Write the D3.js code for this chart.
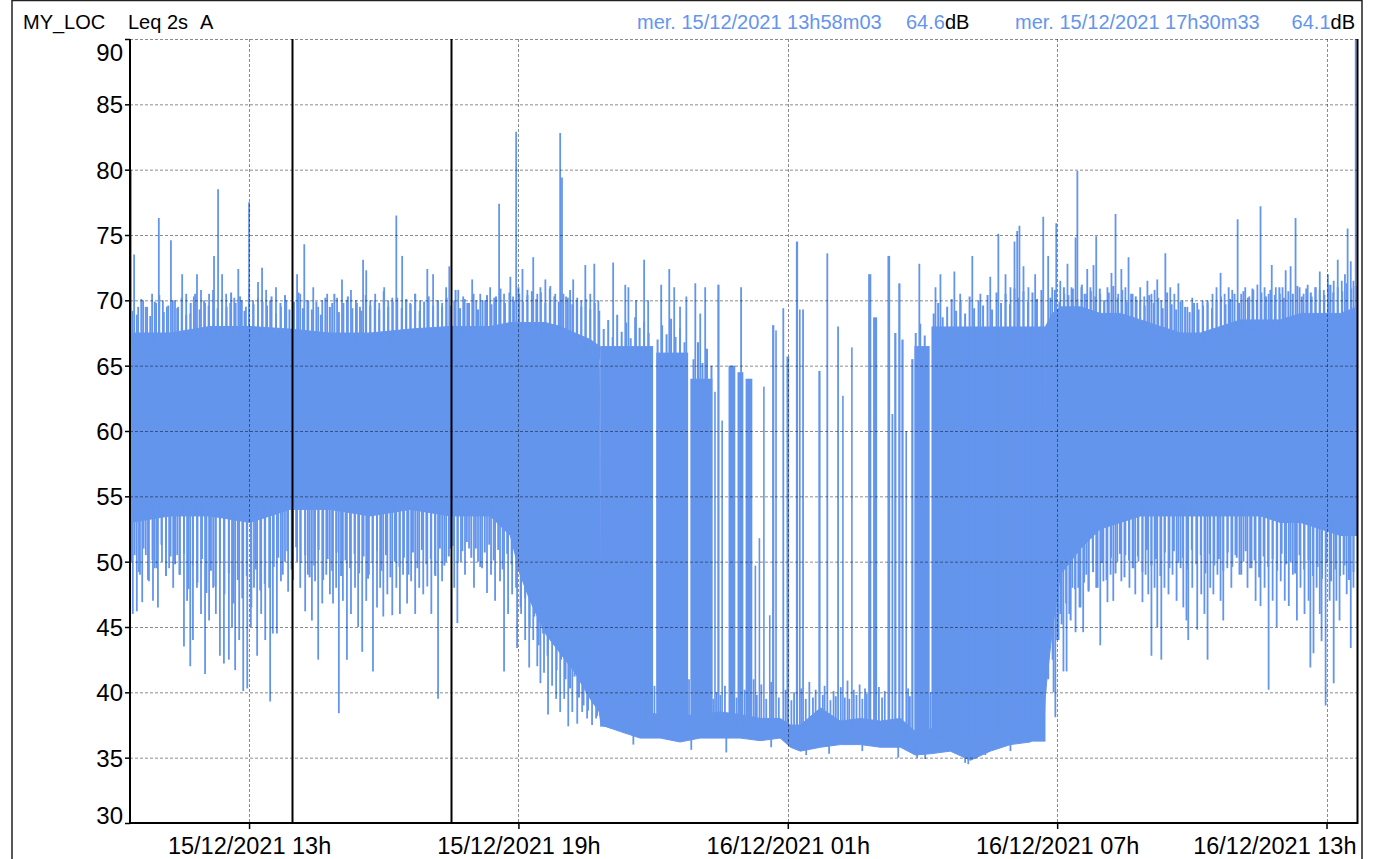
<!DOCTYPE html>
<html><head><meta charset="utf-8">
<script src="https://cdn.jsdelivr.net/npm/d3@7/dist/d3.min.js"></script>
<style>
body{margin:0;background:#fff;}
svg{display:block;font-family:"Liberation Sans",Arial,Helvetica,sans-serif;}
</style>
</head><body>
<svg id="chart" width="1373" height="859"></svg>
<script>
// ---------- DATA (time in hours since 15/12/2021 00:00, levels in dB(A)) ----------
const viewHours = [10.348, 37.69];
const yTicks = [30, 35, 40, 45, 50, 55, 60, 65, 70, 75, 80, 85, 90];
const xTickHours = [13, 19, 25, 31, 37];
const xTickLabels = ["15/12/2021 13h", "15/12/2021 19h", "16/12/2021 01h", "16/12/2021 07h", "16/12/2021 13h"];

// dense core of the Leq 2s trace
const bandHours = [10.35,11.24,12.13,13.02,13.91,14.80,15.70,16.59,17.48,18.37,18.82,19.04,19.26,19.60,19.93,20.26,20.60,20.80,
  20.84,21.27,21.71,22.16,22.60,23.05,23.50,23.94,24.39,24.83,25.06,25.28,25.73,26.17,26.62,27.06,27.51,27.84,28.18,28.62,29.07,29.51,29.96,30.40,30.70,
  30.74,30.90,31.07,31.52,31.96,32.41,32.86,33.30,33.75,34.19,34.64,35.08,35.53,35.97,36.42,36.87,37.31,37.69];
const bandLow = [53,53.5,53.5,53,54,54,53.5,54,53.5,53.5,52,49,47,44.5,43,41.5,39.5,38.5,
  37.5,37,36.5,36.5,36.2,36.5,36.5,36.5,36.3,36.5,35.8,35.5,35.8,36,36,35.8,35.8,35.2,35.3,35.5,34.8,35.5,36,36.2,37,
  40,45,49,51,52.5,53,53.5,53.5,53.5,53.5,53.5,53.5,53.5,53,53,52.5,52,52];
const bandHigh = [67.5,67.5,68,68,67.8,67.5,67.5,67.8,68,68,68.3,68.3,68.3,68.3,68,67.5,67,66.5,
  39.5,38.8,38.5,38.3,38.2,38.3,38.5,38.3,38,38,37.5,37.5,38.8,37.8,38,37.8,38,37,37.2,37.8,37.5,38,38.2,38.5,40,
  68,69,69.5,69.5,69,69,68.5,68,67.5,67.5,68,68.5,68.5,68.5,69,69,69,69.5];

// night-time bursts of activity above the background floor
const burstStart = [20.82,22.07,22.83,23.36,23.43,23.52,23.68,23.88,24.06,24.26,24.35,24.45,24.58,24.65,24.72,24.88,24.97,25.18,25.25,25.32,25.68,25.86,26.10,26.21,26.41,26.79,26.90,27.22,27.31,27.37,27.46,27.53,27.62,27.75,27.82,28.20];
const burstEnd   = [22.00,22.78,23.32,23.39,23.48,23.54,23.83,24.01,24.21,24.28,24.37,24.47,24.61,24.70,24.74,24.92,25.03,25.23,25.27,25.36,25.73,25.90,26.14,26.23,26.43,26.86,26.99,27.28,27.35,27.42,27.51,27.58,27.64,27.80,28.16,30.74];
const burstTop   = [66.5,66,64,63,71.2,60.8,65,64.5,64,49.7,51.8,63.4,45.9,68.1,67.7,69.4,65.7,74.5,69.3,69.3,64.6,73.6,68,62.7,66.4,72,68.7,73.4,61.3,67.5,71.3,67,60,65.5,66.5,68];

// isolated maxima
const peakHours = [10.37,10.44,10.53,10.64,10.73,10.84,10.93,10.99,11.08,11.17,11.26,11.35,11.42,11.51,11.60,11.69,11.77,11.84,11.93,12.02,12.11,12.22,12.31,12.40,12.49,12.58,12.67,12.76,12.84,12.93,13.00,13.09,13.20,13.29,13.38,13.47,13.60,13.71,13.83,14.07,14.14,14.23,14.32,14.43,14.54,14.63,14.74,14.85,14.96,15.07,15.18,15.27,15.38,15.47,15.54,15.61,15.70,15.81,15.90,16.01,16.10,16.19,16.28,16.41,16.50,16.59,16.70,16.81,16.97,17.10,17.21,17.30,17.39,17.46,17.57,17.66,17.77,17.86,17.97,18.06,18.15,18.26,18.37,18.46,18.57,18.68,18.82,18.88,18.95,19.02,19.09,19.20,19.33,19.42,19.49,19.60,19.71,19.82,19.93,19.97,20.06,20.15,20.22,20.31,20.40,20.49,20.60,20.69,20.78,
  21.11,21.38,21.45,21.62,21.80,21.89,22.18,22.36,22.47,22.60,22.74,22.94,23.05,23.16,23.96,27.93,28.29,28.40,28.71,28.84,29.11,29.29,29.51,29.69,29.85,29.96,30.05,30.11,30.16,30.25,30.36,30.51,30.69,
  30.80,30.89,30.98,31.07,31.16,31.23,31.32,31.41,31.45,31.54,31.61,31.67,31.74,31.81,31.87,31.96,32.05,32.12,32.21,32.30,32.36,32.43,32.52,32.59,32.68,32.77,32.85,32.94,33.01,33.10,33.17,33.23,33.32,33.41,33.52,33.61,33.70,33.79,33.90,34.01,34.12,34.24,34.35,34.46,34.55,34.64,34.73,34.82,34.90,35.02,35.10,35.19,35.28,35.37,35.46,35.53,35.62,35.71,35.78,35.87,35.96,36.02,36.09,36.20,36.31,36.40,36.49,36.58,36.67,36.76,36.85,36.94,37.03,37.09,37.16,37.25,37.34,37.41,37.47,37.54,37.60,37.65];
const peakLevels = [80,73.5,69.5,70,69.5,70.5,69.8,76.3,70,69.5,74.6,70,69.5,72,70.5,69,70.3,72,70.8,69.8,70.5,73.4,78.5,72,70.5,69.8,70.2,72.4,70,69.5,77.5,70,71.4,72.5,70.8,70,71,69.5,70,72,70.5,74.3,70,71,69.5,70,70.5,69.8,70.2,71.6,70,70.8,70,69.5,73.1,72.3,70,70.5,69.8,71,70,70.2,76.5,73.4,70,69.8,70.5,70,72.4,72,70,69.8,71,72.6,70,70.8,70.3,69.8,71.6,70,70.5,70,71,70.2,77.4,70.5,71.8,70.3,82.9,70.5,72.4,70.8,73.3,70.5,71,71.6,71.1,70.5,82.8,79.4,70.3,70.8,71.6,70.2,70,72.7,70.5,72.8,70,
  72.9,71.2,71,70,73.1,70,71.2,72.4,71,69.5,70.3,71.3,69,71,71,72.8,71,72,72.2,70.5,73.4,70.5,71.8,75.1,72,71,74.5,75.3,75.7,72.6,71,72,76.4,
  73.4,71,75.9,71.5,70.5,72.8,71,74.8,79.9,71,70.5,72.4,71,72.7,74.9,70.5,70,71,72.1,76.6,70.5,72.4,71,73.3,70.5,70,71,70.3,71.5,70.5,70.8,71.6,70,73.6,71,70.5,71.3,70,69.5,70.2,69.8,70,69.8,70.5,71,72.1,70.5,71,70.8,76.2,70.5,71,70.3,70.8,71.2,77.2,71,70.5,72.7,71,70.5,71,72.3,72.6,76.3,71,70.5,71.2,70.3,71,72.2,70.8,72,71.2,71.5,73.1,71.5,72,75.5,73,71.5,91];

// isolated minima
const dipHours = [10.39,10.41,10.50,10.57,10.62,10.70,10.77,10.86,10.90,10.97,11.06,11.15,11.22,11.31,11.40,11.46,11.55,11.62,11.69,11.75,11.84,11.93,12.02,12.11,12.20,12.26,12.35,12.44,12.55,12.62,12.69,12.78,12.87,12.96,13.04,13.11,13.18,13.27,13.36,13.47,13.53,13.62,13.71,13.80,13.87,13.98,14.07,14.14,14.25,14.31,14.40,14.47,14.54,14.63,14.72,14.80,14.87,14.94,15.00,15.09,15.18,15.27,15.36,15.43,15.52,15.61,15.67,15.76,15.85,15.92,15.99,16.08,16.19,16.28,16.36,16.43,16.52,16.61,16.70,16.79,16.88,16.97,17.06,17.14,17.21,17.30,17.39,17.48,17.57,17.64,17.72,17.81,17.90,18.01,18.10,18.19,18.30,18.39,18.48,18.59,18.68,18.77,18.86,18.97,19.06,19.15,19.24,19.33,19.42,19.49,19.57,19.66,19.75,19.84,19.93,20.02,20.11,20.20,20.31,20.42,20.53,20.64,20.73,
  21.56,22.85,23.63,24.63,25.41,25.92,26.66,27.46,27.88,28.06,28.95,29.02,29.40,29.96,
  30.74,30.78,30.85,30.92,30.96,31.03,31.07,31.14,31.21,31.27,31.34,31.41,31.47,31.52,31.58,31.65,31.70,31.79,31.87,31.96,32.03,32.12,32.19,32.25,32.34,32.43,32.52,32.61,32.68,32.74,32.81,32.90,32.97,33.03,33.10,33.17,33.23,33.32,33.39,33.48,33.57,33.66,33.75,33.81,33.88,33.92,34.01,34.12,34.21,34.28,34.35,34.41,34.48,34.57,34.64,34.70,34.79,34.88,34.97,35.06,35.15,35.24,35.33,35.42,35.53,35.62,35.71,35.80,35.89,35.98,36.07,36.16,36.25,36.34,36.42,36.51,36.60,36.64,36.71,36.78,36.85,36.89,36.98,37.07,37.16,37.22,37.29,37.38,37.45,37.54,37.60];
const dipLevels = [50,46,46.2,49,46.9,50.5,48.5,47,49.5,46.5,50,51,49.5,48,50.5,49,43.5,47,42,44,48,46,41.4,45.5,48,46,42.8,42.2,42.5,45,41.7,44,40.1,40.3,45,48,42.8,46,44,39.3,44.5,44.5,48.5,50,47.7,48.6,50,48,46.2,49,45.5,48.5,42.5,46.8,49,47.5,46.8,48,38.4,47,42.5,46,48,45,43.1,47,49,41.6,46.5,48,45.8,47.5,45.9,48,46,49,46.8,48.5,46,48,47.5,48.1,46,49,39.5,48.5,50,51,48,45.3,50,49,51,48,50,49.5,47.6,49,47,48.5,41.6,46,47.5,43.4,46,44,41.9,44,42,40.7,41.5,38.3,40.5,39.5,38.5,39.5,37.4,38.5,37.6,38.5,38,37.5,38,
  36,35.6,35.4,35.8,35.2,35.3,35.5,35,35,34.9,34.6,34.5,35.2,35.5,
  40,43.1,45,40,38.1,44,46,41.6,41.6,46,48,44.6,48,46.5,44.6,49,47.7,50,48,43.6,48.5,46.9,49,47,50,48.5,50.5,48,49.5,47.5,50,46.9,49,47.5,42.8,48,45,42.5,48,47.5,49,47,49.5,46.5,45.5,44,48,44.8,47.5,46,42.5,48,47.5,49,47,45.5,49.5,48,50.5,49,50,48,49.5,47,46.6,48,40.2,47,45,48.5,47,46.6,49,45.5,48,46,47,41.9,43,48,46,43.9,39,47,40.7,47,45.5,49,47.5,43.4,48];

// fine fringe of the trace: 6-minute maxima above and minima below the core
const fringeUpHours = [10.4,10.5,10.6,10.7,10.8,10.9,11.0,11.1,11.2,11.3,11.4,11.5,11.6,11.7,11.8,11.9,12.0,12.1,12.2,12.3,12.4,12.5,12.6,12.7,12.8,12.9,13.0,13.1,13.2,13.3,13.4,13.5,13.6,13.7,13.8,13.9,14.0,14.1,14.2,14.3,14.4,14.5,14.6,14.7,14.8,14.9,15.0,15.1,15.2,15.3,15.4,15.5,15.6,15.7,15.8,15.9,16.0,16.1,16.2,16.3,16.4,16.5,16.6,16.7,16.8,16.9,17.0,17.1,17.2,17.3,17.4,17.5,17.6,17.7,17.8,17.9,18.0,18.1,18.2,18.3,18.4,18.5,18.6,18.7,18.8,18.9,19.0,19.1,19.2,19.3,19.4,19.5,19.6,19.7,19.8,19.9,20.0,20.1,20.2,20.3,20.4,20.5,20.6,20.7,20.8,
  20.9,21.0,21.1,21.2,21.3,21.4,21.5,21.6,21.7,21.8,21.9,22.1,22.2,22.3,22.4,22.5,22.6,22.7,22.9,23.0,23.1,23.2,23.3,27.85,27.95,28.05,
  28.25,28.35,28.45,28.55,28.65,28.75,28.85,28.95,29.05,29.15,29.25,29.35,29.45,29.55,29.65,29.75,29.85,29.95,30.05,30.15,30.25,30.35,30.45,30.55,30.65,
  30.85,30.95,31.05,31.15,31.25,31.35,31.45,31.55,31.65,31.75,31.85,31.95,32.05,32.15,32.25,32.35,32.45,32.55,32.65,32.75,32.85,32.95,33.05,33.15,33.25,33.35,33.45,33.55,33.65,33.75,33.85,33.95,34.05,34.15,34.25,34.35,34.45,34.55,34.65,34.75,34.85,34.95,35.05,35.15,35.25,35.35,35.45,35.55,35.65,35.75,35.85,35.95,36.05,36.15,36.25,36.35,36.45,36.55,36.65,36.75,36.85,36.95,37.05,37.15,37.25,37.35,37.45,37.55,37.65];
const fringeUpLevels = [69.2,68.9,70.1,69.5,68.8,69.9,70.4,69.1,69.6,70.0, 69.4,70.2,68.9,69.8,70.5,69.3,70.0,69.6,70.8,69.4, 70.1,69.5,70.6,69.8,70.3,69.2,70.9,69.7,70.2,69.9, 69.6,70.3,69.0,69.8,70.4,69.3,69.9,70.6,69.4,70.0, 69.3,69.9,68.9,70.2,69.5,70.5,69.1,69.8,70.3,69.4, 69.8,69.2,70.4,69.6,70.0,69.3,70.7,69.5,69.9,70.2, 69.4,70.1,69.7,70.5,69.2,69.9,70.3,69.6,70.0,69.5, 70.2,69.6,70.8,69.4,70.1,69.8,70.5,69.3,70.0,70.4, 69.7,70.3,70.9,69.8,70.6,70.0,71.0,69.9,70.4,70.7, 70.1,70.6,69.8,70.9,70.3,69.9,70.5,70.2,69.7,70.0, 69.5,70.1,69.3,69.8,69.2,
  67.8,68.5,67.2,68.9,67.6,68.3,67.1,68.7,67.9,68.4,67.5,67.0,68.1,67.4,68.6,67.2,67.9,66.8,65.5,66.8,65.2,66.3,65.0,67.5,68.2,67.3,
  69.0,69.8,68.7,69.5,70.1,69.2,69.9,69.0,70.3,69.4,70.0,69.6,70.4,69.3,70.6,69.8,70.5,69.7,70.9,70.2,70.7,69.9,70.6,70.1,70.8,
  70.2,70.8,69.9,71.0,70.4,70.9,70.1,71.2,70.5,70.7, 70.3,70.9,70.0,70.6,71.1,70.2,70.8,69.9,70.5,70.3, 70.0,69.6,70.4,69.8,70.2,69.4,70.6,69.7,69.3,69.9, 69.5,69.1,69.8,69.3,69.6,70.0,69.4,69.9,70.3,69.7, 70.1,70.5,69.8,70.7,70.2,70.9,70.0,70.6,70.3,70.8, 70.4,71.0,70.2,70.7,70.5,71.1,70.3,70.9,70.6,71.0, 70.8,70.4,71.2,70.6,71.0,70.7,71.3,70.9,71.1];
const fringeDownHours = [10.45,10.55,10.65,10.75,10.85,10.95,11.05,11.15,11.25,11.35,11.45,11.55,11.65,11.75,11.85,11.95,12.05,12.15,12.25,12.35,12.45,12.55,12.65,12.75,12.85,12.95,13.05,13.15,13.25,13.35,13.45,13.55,13.65,13.75,13.85,13.95,14.05,14.15,14.25,14.35,14.45,14.55,14.65,14.75,14.85,14.95,15.05,15.15,15.25,15.35,15.45,15.55,15.65,15.75,15.85,15.95,16.05,16.15,16.25,16.35,16.45,16.55,16.65,16.75,16.85,16.95,17.05,17.15,17.25,17.35,17.45,17.55,17.65,17.75,17.85,17.95,18.05,18.15,18.25,18.35,18.45,18.55,18.65,18.75,18.85,18.95,19.05,19.15,19.25,19.35,19.45,19.55,19.65,19.75,19.85,19.95,20.05,20.15,20.25,20.35,20.45,20.55,20.65,20.75,
  30.80,30.90,31.00,31.10,31.20,31.30,31.40,31.50,31.60,31.70,31.80,31.90,32.00,32.10,32.20,32.30,32.40,32.50,32.60,32.70,32.80,32.90,33.00,33.10,33.20,33.30,33.40,33.50,33.60,33.70,33.80,33.90,34.00,34.10,34.20,34.30,34.40,34.50,34.60,34.70,34.80,34.90,35.00,35.10,35.20,35.30,35.40,35.50,35.60,35.70,35.80,35.90,36.00,36.10,36.20,36.30,36.40,36.50,36.60,36.70,36.80,36.90,37.00,37.10,37.20,37.30,37.40,37.50,37.60];
const fringeDownLevels = [50.5,49.2,51.0,48.6,50.1,49.5,51.3,48.9,50.4,49.8, 49.0,50.6,47.9,49.7,48.4,50.2,47.6,49.3,48.1,49.9, 47.5,49.1,46.8,48.6,47.2,48.9,46.5,49.4,47.8,48.3, 48.0,49.6,50.3,49.0,50.8,49.4,51.1,49.9,50.5,48.8, 49.7,50.9,48.6,50.2,49.3,50.7,48.9,50.1,49.5,50.6, 49.1,50.4,48.7,49.9,50.8,49.3,50.5,48.8,50.0,49.6, 50.3,49.0,50.7,49.5,50.9,49.8,50.2,48.9,51.0,49.7, 50.4,51.2,49.9,50.8,51.5,50.3,51.0,49.6,50.7,51.3, 50.1,50.9,49.4,50.6,49.8,48.0,46.5,47.2,45.0,45.8, 43.6,44.5,42.8,43.9,41.7,42.5,41.0,40.3,41.2,39.6, 39.0,38.6,39.3,38.2,
  41.0,42.5,44.0,45.2,46.8,45.5,47.9,46.5,48.4,47.8, 49.2,48.0,49.9,48.6,50.3,49.1,50.6,48.8,50.1,49.5, 50.4,49.2,50.9,49.7,50.2,48.9,50.7,49.5,50.8,49.9, 50.3,49.4,50.9,49.8,50.5,49.1,50.6,49.7,50.2,49.3, 50.7,49.6,50.3,49.0,50.8,49.5,50.1,48.8,50.4,49.6, 50.2,49.3,50.6,49.8,50.0,49.1,50.5,49.4,50.1,48.9, 49.6,48.7,49.9,48.5,49.4,48.9,49.7,48.6,49.2];

// small maxima of the night background between bursts
const floorPeakHours = [22.03,22.80,23.34,23.41,23.50,23.60,23.86,24.04,24.24,24.31,24.41,24.52,24.63,24.80,24.95,25.08,25.14,25.30,25.40,25.48,25.56,25.62,25.78,25.82,25.95,26.02,26.07,26.18,26.27,26.33,26.37,26.47,26.53,26.60,26.66,26.72,26.76,27.03,27.10,27.16,27.68,27.72,28.18];
const floorPeakLevels = [40.5,41,39.5,40,39.8,40.5,39.6,40.2,41.0,39.8,40.6,39.5,40.8,39.6,40.2,39.4,40.0,40.3,39.5,40.8,39.6,40.2,39.8,40.5,39.4,40.1,39.7,40.4,39.6,40.9,39.5,40.2,39.8,40.6,39.5,40.3,39.9,40.4,39.6,40.1,40.3,39.7,40.0];

// header / cursors
const headerLeft = ["MY_LOC", "Leq 2s", "A"];
const cursorHours = [13 + 58/60 + 3/3600, 17 + 30/60 + 33/3600];
const cursorLabels = ["mer. 15/12/2021 13h58m03", "mer. 15/12/2021 17h30m33"];
const cursorLevels = ["64.6", "64.1"];

// ---------- CHART ----------
const BLUE = "#6495ED";
const svg = d3.select("#chart");
const P = {left:130, right:1357.5, top:39, bottom:823};
const x = d3.scaleLinear().domain(viewHours).range([P.left, P.right]);
const y = d3.scaleLinear().domain([30, 90]).range([P.bottom, P.top]);

// outer frame
svg.append("path").attr("d", `M12,860V0.5H1362V860`).attr("fill","none").attr("stroke","#222").attr("stroke-width",1.5);

// header
const hdr = svg.append("g").attr("font-size", 20).attr("fill", "#000");
[[23, headerLeft[0]], [128, headerLeft[1]], [200, headerLeft[2]]].forEach(([px, t]) =>
  hdr.append("text").attr("x", px).attr("y", 29).text(t));
hdr.append("text").attr("x", 637).attr("y", 29).attr("fill", BLUE).text(cursorLabels[0]);
const v1 = hdr.append("text").attr("x", 906).attr("y", 29);
v1.append("tspan").attr("fill", BLUE).text(cursorLevels[0]);
v1.append("tspan").attr("fill", "#000").text("dB");
hdr.append("text").attr("x", 1015).attr("y", 29).attr("fill", BLUE).text(cursorLabels[1]);
const v2 = hdr.append("text").attr("x", 1355).attr("y", 29).attr("text-anchor", "end");
v2.append("tspan").attr("fill", BLUE).text(cursorLevels[1]);
v2.append("tspan").attr("fill", "#000").text("dB");

// clip
svg.append("clipPath").attr("id","clip").append("rect")
  .attr("x", P.left).attr("y", P.top).attr("width", P.right - P.left).attr("height", P.bottom - P.top);
const data = svg.append("g").attr("clip-path","url(#clip)");

const band = bandHours.map((t,i)=>({t, lo:bandLow[i], hi:bandHigh[i]}));
function bandAt(t){
  const i = d3.bisector(d=>d.t).left(band, t);
  if (i <= 0) return band[0];
  if (i >= band.length) return band[band.length-1];
  const a = band[i-1], b = band[i], f = (t-a.t)/(b.t-a.t);
  return {lo: a.lo + f*(b.lo-a.lo), hi: a.hi + f*(b.hi-a.hi)};
}

data.append("path").datum(band)
  .attr("d", d3.area().x(d=>x(d.t)).y0(d=>y(d.lo)).y1(d=>y(d.hi)))
  .attr("fill", BLUE).attr("stroke", BLUE).attr("stroke-width", 1);

data.selectAll("rect.burst").data(burstStart.map((s,i)=>({s, e:burstEnd[i], top:burstTop[i]})))
  .join("rect").attr("class","burst")
  .attr("x", d=>x(d.s)).attr("width", d=>Math.max(1.6, x(d.e)-x(d.s)))
  .attr("y", d=>y(d.top))
  .attr("height", d=>y(Math.min(bandAt(d.s).hi, bandAt(d.e).hi, bandAt((d.s+d.e)/2).hi) - 1) - y(d.top))
  .attr("fill", BLUE);

function spikes(cls, hours, levels, up, w){
  data.selectAll("line."+cls).data(hours.map((t,i)=>({t, v:levels[i]})))
    .join("line").attr("class",cls)
    .attr("x1", d=>x(d.t)).attr("x2", d=>x(d.t))
    .attr("y1", d=>y(up ? bandAt(d.t).hi - 1 : bandAt(d.t).lo + 1)).attr("y2", d=>y(d.v))
    .attr("stroke", BLUE).attr("stroke-width", w);
}
spikes("fu", fringeUpHours, fringeUpLevels, true, 2);
spikes("fd", fringeDownHours, fringeDownLevels, false, 2);
spikes("fl", floorPeakHours, floorPeakLevels, true, 1.8);
spikes("pk", peakHours, peakLevels, true, 1.8);
spikes("dp", dipHours, dipLevels, false, 1.8);

// grid (dashed, drawn over the trace)
const grid = svg.append("g").attr("stroke","rgba(0,0,0,0.45)").attr("stroke-width",1).attr("stroke-dasharray","3,2");
yTicks.forEach(v => grid.append("line").attr("x1",P.left).attr("x2",P.right).attr("y1",y(v)+0.5).attr("y2",y(v)+0.5));
xTickHours.forEach(h => grid.append("line").attr("x1",Math.round(x(h))+0.5).attr("x2",Math.round(x(h))+0.5).attr("y1",P.top).attr("y2",P.bottom));

// cursors
cursorHours.forEach(h => svg.append("line").attr("x1",x(h)).attr("x2",x(h)).attr("y1",P.top).attr("y2",P.bottom)
  .attr("stroke","#000").attr("stroke-width",2));

// plot box (left, bottom, right)
svg.append("path").attr("d",`M${P.left},${P.top}V${P.bottom}H${P.right}V${P.top}`)
  .attr("fill","none").attr("stroke","#000").attr("stroke-width",2);

// y axis
const yAxis = svg.append("g").attr("transform",`translate(${P.left},0)`)
  .call(d3.axisLeft(y).tickValues(yTicks).tickSize(5).tickPadding(2).tickFormat(d3.format("d")));
yAxis.select(".domain").remove();
yAxis.selectAll("line").attr("stroke","#000").attr("stroke-width",1.5);
yAxis.selectAll("text").attr("font-size",24).attr("font-family","Liberation Sans, Arial, sans-serif").attr("fill","#000")
  .attr("dy", d => d === 90 ? "0.88em" : d === 30 ? "0em" : "0.36em");

// x axis
const xAxis = svg.append("g").attr("transform",`translate(0,${P.bottom})`)
  .call(d3.axisBottom(x).tickValues(xTickHours).tickSize(6).tickPadding(8).tickFormat((d,i)=>xTickLabels[i]));
xAxis.select(".domain").remove();
xAxis.selectAll("line").attr("stroke","#000").attr("stroke-width",1.5);
xAxis.selectAll("text").attr("font-size",23.5).attr("font-family","Liberation Sans, Arial, sans-serif").attr("fill","#000");
xAxis.selectAll(".tick").filter((d,i)=>i===xTickHours.length-1).select("text")
  .attr("text-anchor","end").attr("x", P.right - 1.5 - x(xTickHours[xTickHours.length-1]));
</script>
</body></html>
